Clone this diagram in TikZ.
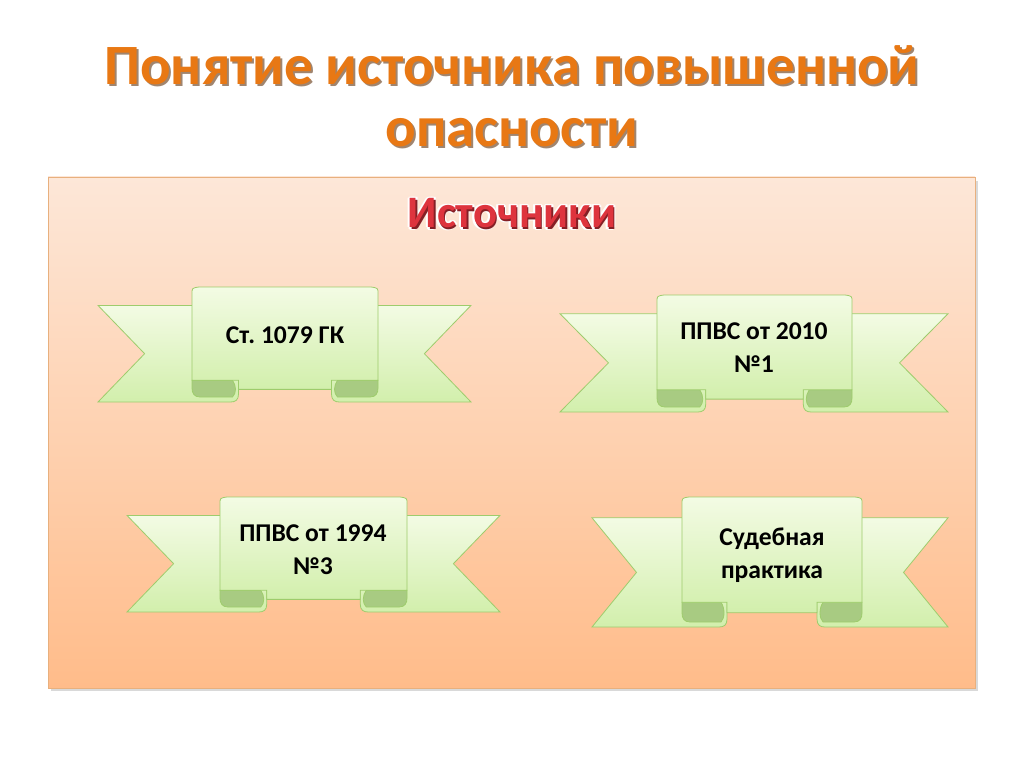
\documentclass[tikz,border=0pt]{standalone}
\usepackage{fontspec}
\setmainfont{Carlito}
\usetikzlibrary{positioning}

\definecolor{bgtop}{RGB}{253,231,216}
\definecolor{bgbot}{RGB}{255,188,138}
\definecolor{bgline}{RGB}{232,176,126}
\definecolor{titleorange}{RGB}{232,120,20}
\definecolor{titleshade}{RGB}{120,80,50}
\definecolor{headred}{RGB}{222,52,62}
\definecolor{ribtop}{RGB}{243,251,228}
\definecolor{ribbot}{RGB}{210,239,172}
\definecolor{ribline}{RGB}{158,204,108}
\definecolor{ribfold}{RGB}{168,203,130}

% ribbon: L, R, top, bottom, panel left, panel right
\newcommand\ribbon[6]{%
  \pgfmathsetmacro\rH{#4-#3}%
  \pgfmathsetmacro\rWT{#3+0.16*\rH}%
  \pgfmathsetmacro\rMid{(\rWT+#4)/2}%
  \pgfmathsetmacro\rND{0.125*(#2-#1)}%
  \pgfmathsetmacro\rFW{0.25*(#6-#5)}%
  \pgfmathsetmacro\rPB{#4-0.11*\rH}%
  \pgfmathsetmacro\rPF{#4-0.19*\rH}%
  \pgfmathsetmacro\rEL{#5+\rFW}%
  \pgfmathsetmacro\rER{#6-\rFW}%
  % wings
  \draw[ribbonpart] (#1,\rWT) -- (\rEL,\rWT) -- (\rEL,#4-8)
    .. controls (\rEL,#4-2) and (\rEL-3,#4) .. (\rEL-8,#4)
    -- (#1,#4) -- (#1+\rND,\rMid) -- cycle;
  \draw[ribbonpart] (#2,\rWT) -- (\rER,\rWT) -- (\rER,#4-8)
    .. controls (\rER,#4-2) and (\rER+3,#4) .. (\rER+8,#4)
    -- (#2,#4) -- (#2-\rND,\rMid) -- cycle;
  % folds
  \draw[ribbonfold] (#5,\rPF) -- (\rEL-6,\rPF)
    .. controls (\rEL-2,\rPF+6) and (\rEL-2,#4-9) .. (\rEL-6,#4-5)
    -- (#5+8,#4-5) .. controls (#5+2,#4-5) and (#5,#4-9) .. (#5,#4-14) -- cycle;
  \draw[ribbonfold] (#6,\rPF) -- (\rER+6,\rPF)
    .. controls (\rER+2,\rPF+6) and (\rER+2,#4-9) .. (\rER+6,#4-5)
    -- (#6-8,#4-5) .. controls (#6-2,#4-5) and (#6,#4-9) .. (#6,#4-14) -- cycle;
  % panel
  \draw[ribbonpart] (#5,\rPF) -- (#5,#3+7) .. controls (#5,#3+1) .. (#5+7,#3)
    -- (#6-7,#3) .. controls (#6,#3+1) .. (#6,#3+7) -- (#6,\rPF)
    -- (\rER,\rPF) -- (\rER,\rPB) -- (\rEL,\rPB) -- (\rEL,\rPF) -- cycle;
}

\tikzset{
  ribbonpart/.style={draw=ribline, line width=0.8pt, top color=ribtop, bottom color=ribbot},
  ribbonfold/.style={draw=ribline, line width=0.8pt, fill=ribfold},
  titletext/.style={anchor=base, font=\fontsize{57}{57}\selectfont\bfseries, text=titleorange},
  headtext/.style={anchor=base, font=\fontsize{45}{45}\selectfont\bfseries, text=headred},
  ribbontext/.style={align=center, font=\fontsize{25.6}{33}\selectfont\bfseries, text=black}
}

\begin{document}
\begin{tikzpicture}[x=1pt, y=-1pt]
  \useasboundingbox (0,0) rectangle (1024,767);

  % title
  \node[titletext, text=titleshade!70] (titleshadow) at (514,87) {Понятие источника повышенной};
  \node[titletext, text=titleshade!70] (titleshadow2) at (514,149) {опасности};
  \node[titletext] (title) at (512,85) {Понятие источника повышенной};
  \node[titletext] (title2) at (512,147) {опасности};

  % panel
  \fill[black!15] (51,181) rectangle (978,691);
  \draw[bgline, top color=bgtop, bottom color=bgbot] (48,177) rectangle (975,688);

  % heading
  \foreach \dx/\dy in {-2/0, 2/0, 0/-2, 0/2, -1.5/-1.5, 1.5/-1.5, -1.5/1.5, 1.5/1.5}
    \node[headtext, text=white] (headglow) at (512+\dx,228+\dy) {Источники};
  \node[headtext, text=headred!60!black] (headshadow) at (513.5,229.5) {Источники};
  \node[headtext] (head) at (512,228) {Источники};

  % ribbons
  \ribbon{98}{471}{287}{402}{192}{378}
  \ribbon{560}{948}{295}{412}{657}{852}
  \ribbon{127}{500}{497}{612}{220}{407}
  \ribbon{592}{948}{497}{627}{682}{862}

  \node[ribbontext, anchor=base] (gk) at (285,343) {Ст.\ 1079 ГК};
  \node[ribbontext] (ppvs2010) at (754,348) {ППВС от 2010\\№1};
  \node[ribbontext] (ppvs1994) at (313,550) {ППВС от 1994\\№3};
  \node[ribbontext] (practice) at (772,555) {Судебная\\практика};
\end{tikzpicture}
\end{document}
